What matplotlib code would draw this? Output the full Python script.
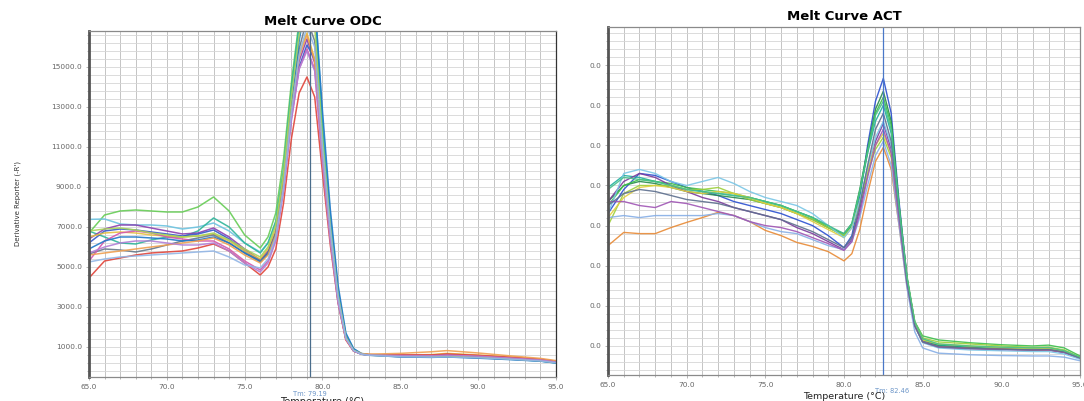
import matplotlib
matplotlib.use("Agg")
import matplotlib.pyplot as plt
import numpy as np
from matplotlib.ticker import FixedLocator, FixedFormatter, MultipleLocator

# ======================
# Data
# ======================

temp_odc = [65, 66, 67, 68, 69, 70, 71, 72, 73, 74, 75, 76, 76.5, 77, 77.5, 78, 78.5,
            79, 79.5, 80, 80.5, 81, 81.5, 82, 82.5, 83, 85, 87, 88, 90, 92, 94, 95]

odc_colors = ["#66cc55", "#6cc3e0", "#2fb59a", "#8a3fb0", "#3558c8", "#e5c040", "#66788a",
              "#d457ac", "#e0443a", "#1f78c8", "#f0a050", "#a8d45a", "#b27fd6", "#92b6e6"]

odc_curves = [
    [6700, 7600, 7800, 7850, 7800, 7750, 7750, 8000, 8500, 7800, 6600, 5950, 6500, 7700, 10400, 14200, 17300,
     19500, 18000, 11600, 7000, 3600, 1500, 850, 660, 600, 560, 540, 560, 500, 420, 320, 230],
    [7380, 7400, 7150, 7100, 7100, 7050, 6900, 7000, 7200, 6800, 6200, 5750, 6200, 7200, 9600, 13600, 16900,
     19200, 18400, 12400, 7600, 3900, 1650, 900, 680, 620, 540, 520, 540, 470, 400, 300, 200],
    [6800, 6500, 6200, 6150, 6350, 6500, 6500, 6800, 7450, 7000, 6200, 5700, 6200, 7300, 9900, 13900, 17100,
     19300, 18200, 12000, 7300, 3700, 1550, 860, 650, 590, 520, 500, 520, 460, 390, 300, 210],
    [6400, 6900, 7100, 7100, 6950, 6800, 6650, 6700, 6950, 6500, 5900, 5350, 5800, 6800, 9300, 12700, 15300,
     16400, 15200, 10500, 6500, 3300, 1400, 800, 640, 600, 580, 560, 600, 540, 460, 360, 260],
    [6200, 6800, 6900, 6850, 6750, 6650, 6550, 6650, 6850, 6400, 5800, 5300, 5700, 6700, 9100, 12500, 15000,
     16100, 15400, 10900, 6800, 3500, 1500, 830, 650, 600, 560, 540, 560, 510, 430, 340, 240],
    [6500, 6700, 6750, 6700, 6600, 6550, 6500, 6550, 6650, 6300, 5800, 5400, 5900, 6900, 9500, 13000, 15700,
     16700, 15400, 10600, 6600, 3400, 1450, 820, 660, 620, 600, 620, 680, 600, 500, 380, 280],
    [5650, 5900, 5850, 5750, 5900, 6100, 6300, 6450, 6600, 6200, 5700, 5300, 5700, 6700, 9200, 12900, 15900,
     17400, 16300, 11100, 6900, 3500, 1450, 820, 640, 590, 520, 500, 510, 470, 400, 310, 220],
    [5300, 6300, 6700, 6800, 6700, 6500, 6400, 6300, 6300, 5900, 5300, 4850, 5300, 6400, 8900, 12400, 14900,
     15900, 14900, 10300, 6400, 3300, 1400, 800, 650, 610, 590, 580, 620, 560, 470, 370, 270],
    [4450, 5300, 5450, 5600, 5700, 5750, 5800, 5950, 6150, 5800, 5200, 4600, 5000, 5900, 8200, 11400, 13700,
     14500, 13500, 9700, 6100, 3200, 1350, 790, 660, 620, 600, 600, 650, 580, 490, 390, 290],
    [5900, 6300, 6500, 6500, 6450, 6400, 6300, 6350, 6500, 6200, 5700, 5250, 5650, 6600, 9000, 12900, 16300,
     18600, 18300, 12800, 7900, 4100, 1700, 920, 670, 600, 500, 480, 500, 440, 370, 290, 200],
    [5600, 5700, 5800, 5900, 6000, 6100, 6200, 6300, 6450, 6100, 5600, 5200, 5600, 6600, 9100, 12800, 15500,
     16600, 15300, 10500, 6500, 3300, 1400, 810, 670, 640, 680, 760, 820, 700, 560, 430, 320],
    [6800, 6900, 6950, 6850, 6700, 6600, 6500, 6550, 6700, 6350, 5900, 5500, 6000, 7100, 9700, 13500, 16600,
     18300, 17000, 11400, 7000, 3600, 1500, 840, 650, 600, 550, 530, 550, 490, 410, 320, 230],
    [5700, 6000, 6200, 6300, 6300, 6200, 6100, 6100, 6200, 5800, 5200, 4750, 5200, 6300, 8800, 12300, 14900,
     15800, 14800, 10200, 6300, 3200, 1400, 800, 640, 600, 570, 560, 590, 540, 450, 350, 250],
    [5250, 5400, 5500, 5550, 5600, 5650, 5700, 5750, 5800, 5500, 5100, 4950, 5400, 6500, 9000, 12700, 15600,
     17000, 16000, 11000, 6900, 3500, 1450, 820, 640, 580, 510, 490, 500, 460, 390, 300, 210],
]

temp_act = [65, 66, 67, 68, 69, 70, 71, 72, 73, 74, 75, 76, 77, 78, 79, 80, 80.5, 81, 81.5,
            82, 82.5, 83, 83.5, 84, 84.5, 85, 86, 88, 90, 92, 93, 94, 95]

act_colors = ["#2a4fd0", "#278a4c", "#1fb0a0", "#3cbf4a", "#7a3a9c", "#9ccf3a", "#e88a35",
              "#e2cf3e", "#79c6e6", "#86aee6", "#a055b5", "#5d6f8e", "#48c08a"]

act_curves = [
    [4.3, 4.9, 5.3, 5.25, 5.1, 4.95, 4.85, 4.75, 4.6, 4.5, 4.4, 4.3, 4.15, 4.0, 3.75, 3.45, 3.75, 4.7, 6.0,
     7.1, 7.67, 6.8, 4.6, 2.7, 1.55, 1.12, 1.0, 0.95, 0.92, 0.9, 0.9, 0.84, 0.7],
    [4.6, 5.0, 5.1, 5.05, 4.95, 4.85, 4.8, 4.75, 4.7, 4.65, 4.55, 4.45, 4.3, 4.15, 3.95, 3.8, 4.05, 4.9, 5.9,
     6.9, 7.35, 6.6, 4.5, 2.7, 1.55, 1.15, 1.02, 0.97, 0.94, 0.92, 0.93, 0.86, 0.7],
    [4.95, 5.25, 5.2, 5.1, 5.0, 4.9, 4.85, 4.8, 4.75, 4.7, 4.6, 4.5, 4.35, 4.2, 4.0, 3.75, 4.0, 4.8, 5.8,
     6.6, 7.0, 6.3, 4.4, 2.65, 1.55, 1.15, 1.03, 0.98, 0.95, 0.93, 0.93, 0.87, 0.7],
    [4.5, 5.0, 5.15, 5.1, 5.05, 4.95, 4.9, 4.85, 4.8, 4.7, 4.6, 4.5, 4.35, 4.2, 3.95, 3.75, 4.0, 4.85, 5.85,
     6.8, 7.2, 6.5, 4.5, 2.75, 1.6, 1.25, 1.15, 1.08, 1.03, 1.0, 1.02, 0.95, 0.75],
    [4.6, 5.1, 5.3, 5.2, 5.0, 4.85, 4.7, 4.6, 4.45, 4.35, 4.25, 4.15, 3.95, 3.8, 3.6, 3.4, 3.65, 4.4, 5.3,
     6.1, 6.55, 5.9, 4.2, 2.6, 1.5, 1.1, 0.98, 0.94, 0.92, 0.9, 0.9, 0.84, 0.7],
    [4.0, 4.8, 5.0, 5.0, 5.0, 4.9, 4.9, 4.95, 4.8, 4.65, 4.55, 4.45, 4.3, 4.15, 3.95, 3.75, 3.95, 4.55, 5.3,
     5.9, 6.2, 5.7, 4.2, 2.65, 1.6, 1.2, 1.1, 1.05, 1.0, 0.96, 0.97, 0.9, 0.72],
    [3.5, 3.83, 3.8, 3.8, 3.95, 4.08, 4.2, 4.33, 4.25, 4.1, 3.88, 3.75, 3.58, 3.48, 3.35, 3.12, 3.3, 3.9, 4.8,
     5.6, 5.95, 5.4, 4.0, 2.5, 1.5, 1.1, 0.98, 0.94, 0.92, 0.9, 0.9, 0.85, 0.7],
    [4.2, 4.7, 4.95, 5.0, 4.95, 4.85, 4.8, 4.85, 4.8, 4.7, 4.55, 4.45, 4.3, 4.1, 3.9, 3.7, 3.95, 4.6, 5.4,
     6.0, 6.3, 5.8, 4.25, 2.65, 1.55, 1.15, 1.05, 1.0, 0.96, 0.93, 0.94, 0.87, 0.7],
    [4.3, 5.3, 5.4, 5.3, 5.1, 5.0, 5.1, 5.2, 5.05, 4.85, 4.7, 4.6, 4.5, 4.3, 4.0, 3.7, 3.95, 4.6, 5.45,
     6.2, 6.6, 6.0, 4.3, 2.6, 1.5, 1.08, 0.95, 0.9, 0.88, 0.86, 0.86, 0.8, 0.67],
    [4.2, 4.25, 4.2, 4.25, 4.25, 4.25, 4.25, 4.3, 4.25, 4.1, 3.95, 3.85, 3.8, 3.65, 3.5, 3.4, 3.6, 4.2, 5.0,
     5.75, 6.1, 5.5, 4.0, 2.45, 1.35, 0.95, 0.82, 0.78, 0.76, 0.75, 0.75, 0.72, 0.63],
    [4.6, 4.6, 4.5, 4.45, 4.6, 4.55, 4.45, 4.35, 4.25, 4.1, 4.0, 3.95, 3.85, 3.7, 3.55, 3.38, 3.6, 4.3, 5.2,
     6.0, 6.4, 5.8, 4.15, 2.55, 1.5, 1.1, 0.97, 0.93, 0.91, 0.9, 0.9, 0.84, 0.7],
    [4.5, 4.8, 4.9, 4.85, 4.75, 4.65, 4.6, 4.55, 4.45, 4.35, 4.25, 4.15, 4.0, 3.85, 3.65, 3.45, 3.7, 4.5, 5.5,
     6.4, 6.8, 6.1, 4.35, 2.6, 1.5, 1.1, 0.98, 0.94, 0.92, 0.9, 0.91, 0.85, 0.7],
    [4.9, 5.2, 5.15, 5.1, 5.0, 4.9, 4.85, 4.8, 4.75, 4.7, 4.6, 4.5, 4.35, 4.2, 4.0, 3.8, 4.05, 4.85, 5.85,
     6.75, 7.1, 6.4, 4.45, 2.7, 1.6, 1.18, 1.05, 1.0, 0.97, 0.95, 0.96, 0.88, 0.72],
]

odc_yticks = [1000, 3000, 5000, 7000, 9000, 11000, 13000, 15000]
act_yticks = [1, 2, 3, 4, 5, 6, 7, 8]
xticks = [65, 70, 75, 80, 85, 90, 95]
tm_odc = 79.19
tm_act = 82.46


def style_axes(ax, ylim, yticks, ylabels, yminor):
    ax.set_xlim(65, 95)
    ax.set_ylim(*ylim)
    ax.xaxis.set_major_locator(FixedLocator(xticks))
    ax.xaxis.set_major_formatter(FixedFormatter([f"{t:.1f}" for t in xticks]))
    ax.xaxis.set_minor_locator(MultipleLocator(1))
    ax.yaxis.set_major_locator(FixedLocator(yticks))
    ax.yaxis.set_major_formatter(FixedFormatter(ylabels))
    ax.yaxis.set_minor_locator(FixedLocator(yminor))
    ax.grid(True, which="both", axis="x", color="#c4c4c4", linewidth=0.7)
    ax.grid(True, which="both", axis="y", color="#d6d6d6", linewidth=0.6)
    ax.set_axisbelow(True)
    ax.tick_params(which="both", labelsize=5.3, labelcolor="#666666", color="#999999",
                   length=2, width=0.5, pad=3)
    ax.tick_params(which="minor", length=1.5)
    for side in ["top", "right", "bottom"]:
        ax.spines[side].set_color("#8a8a8a")
        ax.spines[side].set_linewidth(0.9)
    ax.spines["left"].set_color("#555555")
    ax.spines["left"].set_linewidth(2.0)


fig = plt.figure(figsize=(10.84, 4.01), dpi=100)
fig.patch.set_facecolor("white")

# left panel: ODC
ax1 = fig.add_axes([0.0821, 0.0599, 0.4308, 0.8628])
style_axes(ax1, (-500, 16800), odc_yticks, [f"{v:.1f}" for v in odc_yticks],
           np.arange(-200, 16800, 400))
ax1.spines["right"].set_color("#333333")
for col, vals in zip(odc_colors, odc_curves):
    ax1.plot(temp_odc, vals, color=col, linewidth=1.1, alpha=0.9)
ax1.axvline(tm_odc, color="#4a6d8c", linewidth=0.9)
ax1.set_title("Melt Curve ODC", fontsize=9.5, fontweight="bold", pad=4)
ax1.set_ylabel("Derivative Reporter (-R')", fontsize=5, color="#333333", labelpad=22)
ax1.text(tm_odc, -0.041, "Tm: 79.19", transform=ax1.get_xaxis_transform(),
         ha="center", va="top", fontsize=4.8, color="#6b95c8")
ax1.text(0.5, -0.058, "Temperature (\u00b0C)", transform=ax1.transAxes,
         ha="center", va="top", fontsize=7, color="#222222")

# right panel: ACT
ax2 = fig.add_axes([0.5609, 0.0648, 0.4354, 0.8678])
style_axes(ax2, (0.275, 8.95), act_yticks, ["0.0"] * len(act_yticks),
           np.arange(0.4, 9.0, 0.2))
for col, vals in zip(act_colors, act_curves):
    ax2.plot(temp_act, vals, color=col, linewidth=1.0, alpha=0.9)
ax2.axvline(tm_act, color="#4a78c8", linewidth=0.9)
ax2.set_title("Melt Curve ACT", fontsize=9.5, fontweight="bold", pad=5)
ax2.text(tm_act + 0.6, -0.036, "Tm: 82.46", transform=ax2.get_xaxis_transform(),
         ha="center", va="top", fontsize=4.8, color="#6b95c8")
ax2.text(0.5, -0.049, "Temperature (\u00b0C)", transform=ax2.transAxes,
         ha="center", va="top", fontsize=6.8, color="#222222")

fig.savefig("out.png", dpi=100)
